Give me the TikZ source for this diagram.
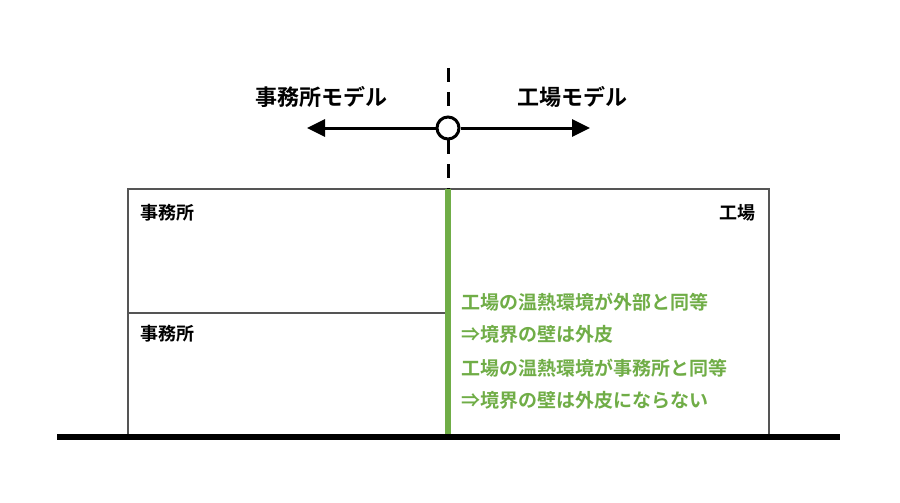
\documentclass[tikz,border=0pt]{standalone}
\usepackage{fontspec}
\newfontfamily\jp{Noto Sans CJK JP}[BoldFont={* Bold}]
\usetikzlibrary{arrows.meta}
\definecolor{grn}{HTML}{70AD47}
\definecolor{wallgray}{HTML}{555555}
\tikzset{
  toplabel/.style={font=\jp\bfseries\fontsize{22}{26}\selectfont, inner sep=0pt},
  roomlabel/.style={font=\jp\bfseries\fontsize{18}{22}\selectfont, inner sep=0pt},
  note/.style={font=\jp\bfseries\fontsize{19}{23}\selectfont, text=grn, inner sep=0pt, anchor=west},
  arr/.style={line width=3pt, -{Triangle[length=18pt,width=17pt]}},
}
\begin{document}
\begin{tikzpicture}[x=1pt,y=-1pt]
\useasboundingbox (0,0) rectangle (900,503);
% building
\draw[wallgray, line width=2pt] (128,437) -- (128,189) -- (769,189) -- (769,437);
\draw[wallgray, line width=2pt] (128,313) -- (448,313);
% ground
\draw[line width=6pt] (57,437) coordinate (g1) -- (840,437) coordinate (g2);
% green wall
\draw[grn, line width=6pt] (448,189) -- (448,434);
% dashed axis
\draw[line width=3pt, dash pattern=on 14pt off 10pt] (448,68) -- (448,189);
% circle and arrows
\coordinate (la) at (307,128);
\coordinate (ra) at (590,128);
\node[circle, draw, fill=white, line width=3pt, minimum size=22pt, inner sep=0pt] (c) at (448,128) {};
\draw[arr] (c) -- (la);
\draw[arr] (c) -- (ra);
% labels
\node[toplabel] (lm) at (321,97) {事務所モデル};
\node[toplabel] (rm) at (572,97) {工場モデル};
\node[roomlabel, anchor=west] (o1) at (140,213) {事務所};
\node[roomlabel, anchor=west] (o2) at (140,334) {事務所};
\node[roomlabel, anchor=east] (f1) at (756,213) {工場};
\node[note] (n1) at (461,302) {工場の温熱環境が外部と同等};
\node[note] (n2) at (461,334) {⇒境界の壁は外皮};
\node[note] (n3) at (461,368) {工場の温熱環境が事務所と同等};
\node[note] (n4) at (461,400) {⇒境界の壁は外皮にならない};
\end{tikzpicture}
\end{document}
